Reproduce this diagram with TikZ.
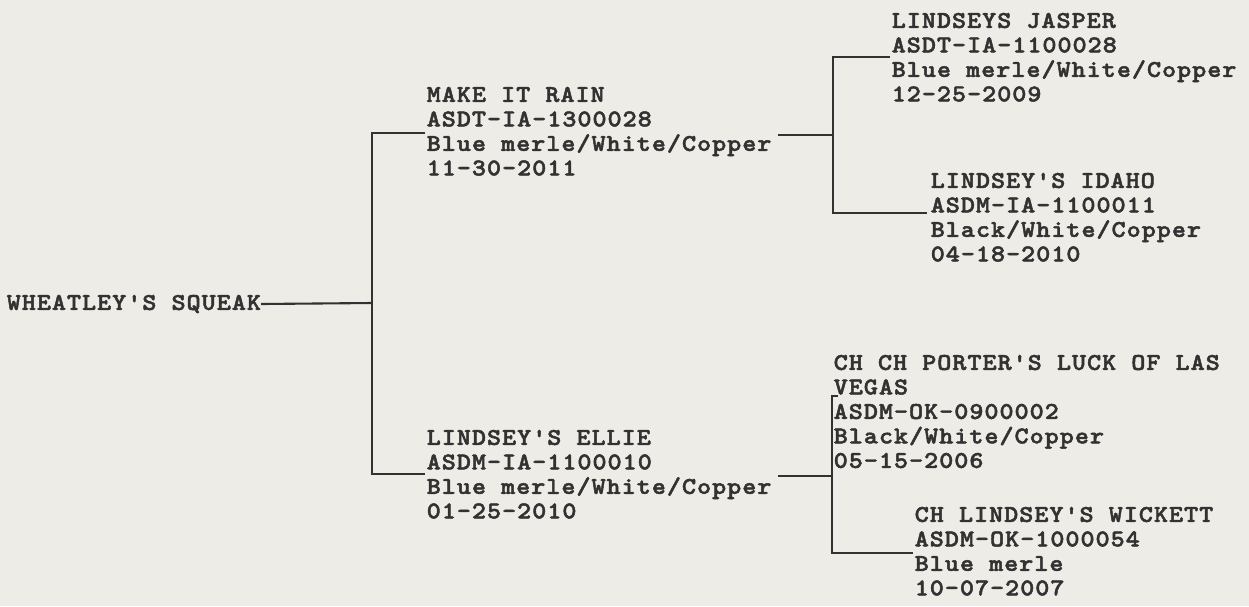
\documentclass[tikz,border=0pt]{standalone}
\usepackage{fontspec}
\newfontfamily\pedfont{lmmonolt10-bold.otf}[FakeBold=2, FakeStretch=1.12, LetterSpace=4]
\definecolor{paper}{RGB}{238,236,230}
\definecolor{ink}{RGB}{50,50,50}
\tikzset{
  dog/.style={anchor=north west, inner sep=0pt, align=left, text=ink,
    font=\pedfont\fontsize{24}{24.5}\selectfont},
  link/.style={draw=ink, line width=2.1pt}
}
\begin{document}
\begin{tikzpicture}[x=1pt, y=-1pt]
      \useasboundingbox (0,0) rectangle (1249,606);
      \fill[paper] (0,0) rectangle (1249,606);
      \draw
        (6.5,294.7) node[dog] (squeak) {WHEATLEY'S SQUEAK}
        (426.5,86.7) node[dog] (rain) {MAKE IT RAIN\\ASDT-IA-1300028\\Blue merle/White/Copper\\11-30-2011}
        (426.5,429.7) node[dog] (ellie) {LINDSEY'S ELLIE\\ASDM-IA-1100010\\Blue merle/White/Copper\\01-25-2010}
        (891.5,12.7) node[dog] (jasper) {LINDSEYS JASPER\\ASDT-IA-1100028\\Blue merle/White/Copper\\12-25-2009}
        (930.5,172.7) node[dog] (idaho) {LINDSEY'S IDAHO\\ASDM-IA-1100011\\Black/White/Copper\\04-18-2010}
        (833.5,354.7) node[dog] (porter) {CH CH PORTER'S LUCK OF LAS\\VEGAS\\ASDM-OK-0900002\\Black/White/Copper\\05-15-2006}
        (914.5,506.7) node[dog] (wickett) {CH LINDSEY'S WICKETT\\ASDM-OK-1000054\\Blue merle\\10-07-2007};
      \coordinate (j0) at (372,303);
      \coordinate (rain-in) at (425,133);
      \coordinate (ellie-in) at (425,474);
      \coordinate (j1) at (833,135);
      \coordinate (rain-out) at (778,135);
      \coordinate (jasper-in) at (890,57);
      \coordinate (idaho-in) at (927,213);
      \coordinate (j2) at (832,476);
      \coordinate (ellie-out) at (778,476);
      \coordinate (porter-in) at (838,396);
      \coordinate (wickett-in) at (913,553);
      \begin{scope}[link]
        \draw (squeak.east) to (j0);
        \draw (rain-in) -| (j0) |- (ellie-in);
        \draw (rain-out) to (j1);
        \draw (jasper-in) -| (j1) |- (idaho-in);
        \draw (ellie-out) to (j2);
        \draw (porter-in) -| (j2) |- (wickett-in);
      \end{scope}
    \end{tikzpicture}
\end{document}
